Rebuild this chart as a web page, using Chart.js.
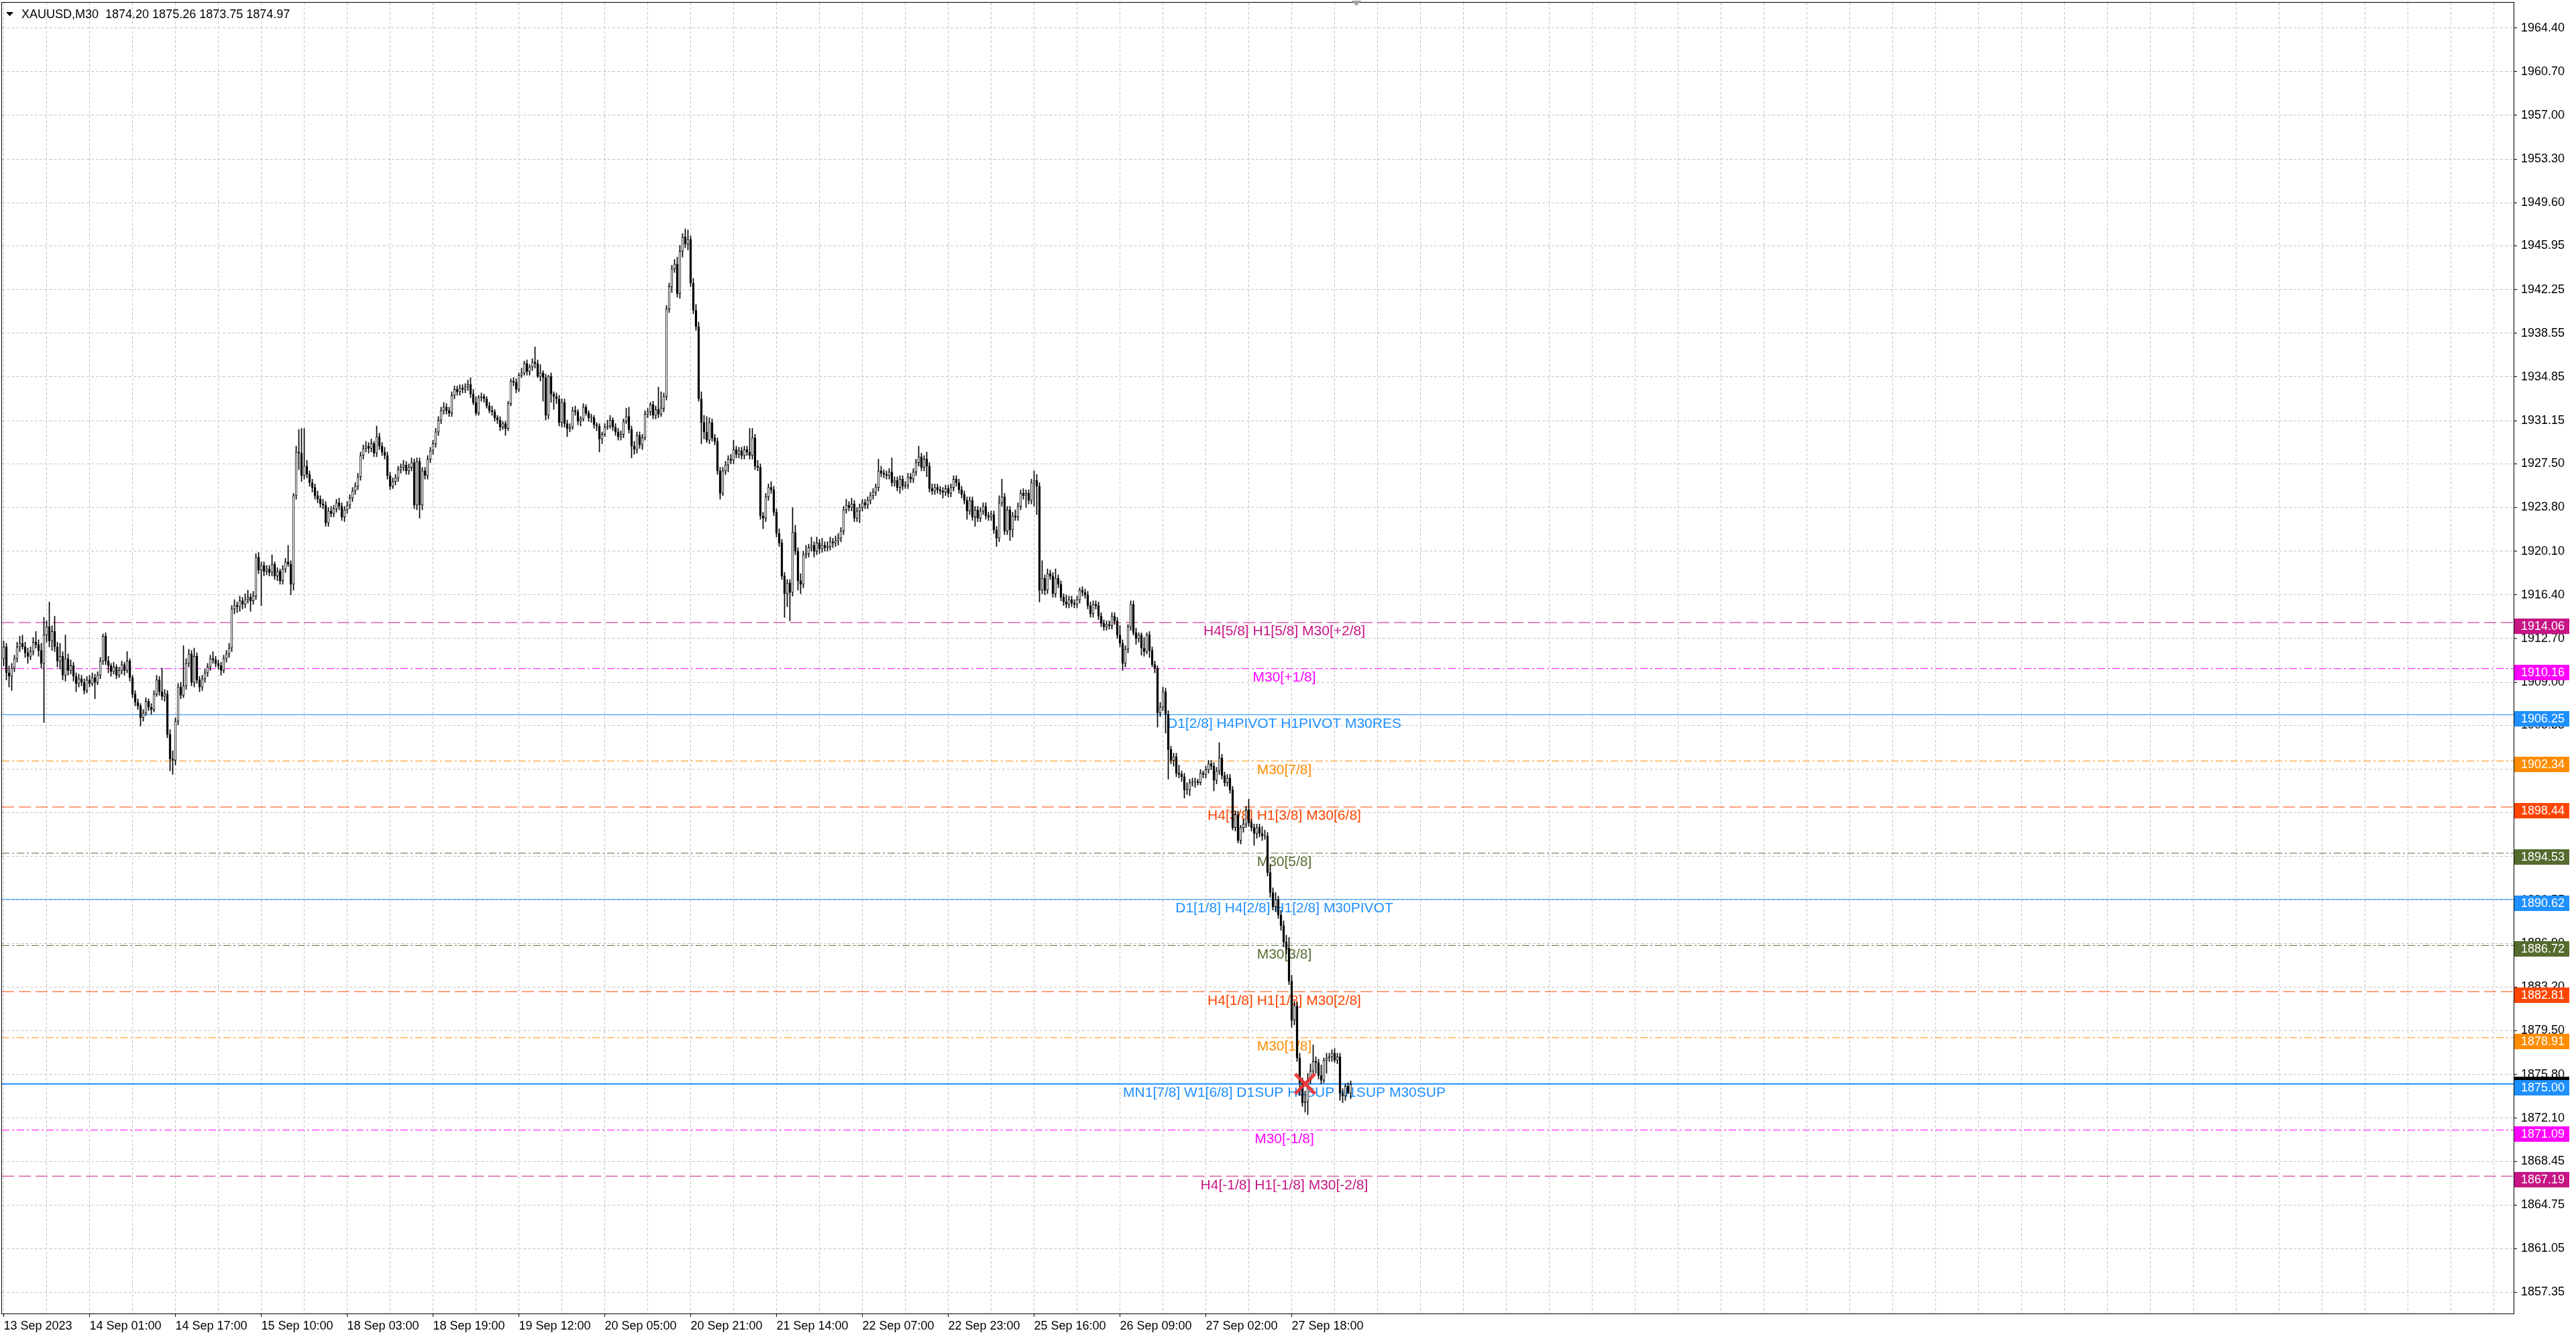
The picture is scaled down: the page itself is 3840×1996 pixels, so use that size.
<!DOCTYPE html>
<html>
<head>
<meta charset="utf-8">
<title>XAUUSD,M30</title>
<script src="https://cdn.jsdelivr.net/npm/chart.js@4.4.1/dist/chart.umd.min.js"></script>
<style>
  html, body { margin: 0; padding: 0; background: #fff; overflow: hidden; }
  canvas { display: block; }
</style>
</head>
<body>
<canvas id="chart" width="3840" height="1996"></canvas>
<script>
// XAUUSD M30 bars, oldest first
const opens = [
  1911.0,1912.0,1909.8,1909.5,1910.2,1911.0,1912.0,1912.3,1912.0,1911.5,
  1911.2,1911.6,1912.4,1912.2,1911.7,1910.6,1913.0,1913.7,1912.5,1913.3,
  1912.0,1910.8,1911.2,1909.6,1911.0,1910.0,1910.4,1909.5,1908.9,1909.3,
  1909.0,1908.3,1909.2,1908.9,1909.4,1909.0,1909.6,1910.8,1912.9,1910.8,
  1910.4,1909.9,1910.3,1909.6,1910.0,1910.5,1910.0,1910.8,1909.4,1908.0,
  1907.3,1907.0,1906.0,1906.4,1907.4,1906.9,1906.7,1908.0,1909.2,1908.2,
  1907.8,1908.0,1904.6,1902.5,1902.4,1905.7,1908.6,1907.9,1908.7,1910.6,
  1911.4,1909.0,1911.2,1909.2,1908.6,1909.3,1909.8,1910.3,1911.0,1910.9,
  1910.6,1910.4,1910.0,1911.0,1911.4,1911.9,1915.2,1915.5,1915.4,1915.9,
  1915.6,1916.0,1916.2,1915.9,1916.3,1919.6,1918.5,1918.9,1918.4,1918.6,
  1918.3,1919.0,1918.0,1918.4,1917.6,1918.6,1919.2,1919.0,1917.3,1924.8,
  1928.5,1928.4,1926.5,1927.3,1926.6,1925.9,1925.5,1924.8,1924.5,1924.1,
  1924.0,1922.5,1923.5,1923.3,1923.7,1924.2,1923.9,1923.0,1923.6,1924.0,
  1924.6,1925.2,1925.6,1926.4,1928.2,1928.8,1929.0,1928.8,1929.2,1928.4,
  1929.8,1929.0,1928.5,1928.2,1926.5,1925.6,1926.0,1926.3,1927.0,1927.2,
  1927.4,1926.9,1927.2,1927.6,1924.0,1927.7,1924.0,1926.9,1926.5,1927.9,
  1928.6,1929.2,1930.2,1931.2,1932.0,1932.3,1932.0,1931.8,1933.3,1933.8,
  1933.6,1933.9,1933.8,1934.0,1934.2,1933.4,1932.7,1931.8,1933.1,1933.2,
  1933.0,1932.4,1932.0,1931.9,1931.4,1931.2,1930.6,1930.9,1930.5,1932.6,
  1934.5,1934.4,1933.8,1935.0,1935.2,1936.0,1935.3,1935.7,1936.1,1936.0,
  1934.9,1935.2,1934.8,1931.6,1934.9,1933.4,1933.2,1933.0,1931.0,1932.7,
  1930.9,1930.5,1930.6,1932.0,1931.9,1931.1,1931.3,1932.3,1931.8,1931.4,
  1931.4,1930.8,1930.7,1929.6,1930.0,1930.6,1930.7,1931.2,1930.6,1930.2,
  1929.8,1930.0,1931.1,1931.5,1930.4,1929.0,1928.7,1929.9,1929.1,1929.7,
  1931.7,1931.9,1932.5,1931.6,1932.1,1931.7,1932.2,1933.2,1940.6,1942.5,
  1944.0,1944.4,1941.9,1945.5,1946.7,1946.1,1946.5,1942.8,1940.5,1939.1,
  1933.0,1931.0,1930.2,1929.5,1931.0,1929.7,1929.4,1926.9,1925.0,1926.9,
  1927.4,1927.9,1927.8,1928.7,1928.3,1928.6,1928.2,1928.7,1928.5,1928.2,
  1929.7,1927.3,1927.2,1923.1,1922.9,1924.7,1925.5,1925.3,1923.4,1921.6,
  1920.8,1918.0,1916.5,1917.4,1916.6,1921.7,1920.1,1917.6,1917.3,1919.8,
  1919.9,1920.4,1920.6,1920.1,1920.8,1920.3,1920.6,1920.4,1920.5,1920.9,
  1920.8,1921.0,1921.2,1921.8,1923.6,1924.0,1923.8,1924.1,1922.9,1923.5,
  1923.8,1924.2,1924.0,1924.4,1924.8,1925.1,1925.5,1926.9,1926.7,1926.6,
  1926.5,1926.8,1925.9,1926.1,1925.5,1926.2,1925.6,1925.7,1926.4,1926.2,
  1926.8,1927.6,1928.1,1927.2,1927.9,1927.3,1925.4,1925.2,1925.5,1925.3,
  1925.2,1925.1,1925.4,1925.0,1925.5,1926.2,1925.9,1925.3,1924.9,1924.4,
  1923.5,1924.4,1923.0,1923.6,1922.9,1923.5,1923.9,1923.1,1923.0,1923.2,
  1921.9,1921.2,1924.2,1924.7,1921.8,1923.6,1921.9,1923.1,1923.0,1923.9,
  1925.0,1924.8,1925.0,1924.4,1925.9,1926.1,1925.6,1916.8,1917.8,1916.8,
  1918.2,1918.0,1916.5,1917.8,1917.3,1916.2,1915.8,1915.6,1916.0,1915.7,
  1915.6,1916.0,1916.8,1916.6,1916.4,1915.5,1914.8,1915.6,1915.5,1914.6,
  1914.0,1913.7,1913.9,1913.8,1914.6,1914.2,1913.0,1912.3,1910.6,1911.8,
  1913.7,1915.6,1913.2,1912.7,1913.0,1911.9,1911.6,1913.0,1911.7,1910.5,
  1910.2,1906.4,1906.9,1908.2,1906.3,1903.3,1902.4,1902.7,1901.3,1901.2,
  1901.0,1899.9,1899.9,1900.5,1900.6,1900.6,1900.5,1901.3,1901.2,1901.6,
  1902.1,1901.9,1900.7,1901.5,1902.6,1901.1,1900.5,1900.9,1899.9,1896.7,
  1897.8,1895.6,1896.7,1897.0,1898.2,1897.1,1896.7,1896.2,1896.7,1896.2,
  1896.0,1896.0,1892.9,1891.2,1890.0,1890.6,1889.3,1888.4,1887.0,1886.5,
  1883.7,1880.4,1881.6,1877.2,1875.1,1873.4,1873.5,1875.3,1876.1,1876.9,
  1876.8,1875.7,1875.3,1877.0,1877.2,1877.3,1877.6,1877.0,1877.3,1874.2,
  1874.0,1874.8,1874.20
];
const highs = [
  1912.5,1912.3,1910.4,1910.6,1911.3,1912.4,1912.9,1913.0,1912.4,1911.9,
  1912.0,1912.8,1913.3,1912.6,1912.3,1914.5,1914.2,1915.8,1913.8,1914.6,
  1912.4,1912.3,1911.6,1913.0,1911.4,1910.9,1910.7,1909.8,1909.7,1909.6,
  1909.3,1909.5,1909.6,1909.8,1909.7,1909.9,1911.1,1913.1,1913.2,1911.2,
  1910.6,1910.7,1910.5,1910.3,1910.8,1910.7,1911.6,1911.0,1909.6,1908.3,
  1907.6,1907.2,1906.7,1907.7,1907.6,1907.2,1908.3,1909.6,1909.5,1910.2,
  1908.4,1908.3,1905.0,1903.2,1906.0,1908.9,1909.0,1912.1,1911.0,1911.8,
  1911.7,1911.9,1911.5,1909.5,1909.6,1910.1,1910.6,1911.3,1911.6,1911.2,
  1910.9,1910.7,1911.3,1911.7,1912.3,1915.5,1916.0,1915.8,1916.3,1916.2,
  1916.5,1916.8,1916.5,1916.7,1919.9,1920.0,1919.2,1919.2,1918.9,1918.9,
  1919.8,1919.2,1918.7,1918.6,1918.9,1919.5,1920.6,1919.3,1925.0,1929.0,
  1930.4,1930.5,1930.5,1927.8,1926.9,1926.2,1925.8,1925.2,1924.8,1924.5,
  1924.3,1923.8,1923.9,1924.0,1924.5,1924.6,1924.2,1923.9,1924.3,1924.9,
  1925.5,1925.9,1926.7,1928.5,1929.1,1929.4,1929.3,1929.6,1929.4,1930.7,
  1930.1,1929.3,1928.9,1928.5,1926.8,1926.3,1926.6,1927.3,1927.5,1927.8,
  1927.7,1927.5,1928.0,1927.9,1928.0,1928.0,1927.2,1927.2,1928.2,1928.9,
  1929.5,1930.5,1931.5,1932.3,1932.7,1932.6,1932.3,1933.6,1934.1,1934.1,
  1934.2,1934.2,1934.3,1934.6,1934.8,1933.8,1933.2,1933.3,1933.5,1933.4,
  1933.2,1932.7,1932.4,1932.1,1931.6,1931.5,1931.1,1931.1,1932.8,1934.7,
  1934.8,1934.7,1935.2,1935.6,1936.2,1936.3,1935.9,1936.4,1937.4,1936.3,
  1935.9,1935.4,1935.1,1935.0,1935.2,1933.6,1933.5,1933.3,1933.0,1933.0,
  1931.2,1930.9,1932.3,1932.4,1932.1,1931.5,1932.6,1932.5,1932.0,1931.7,
  1931.6,1931.0,1930.9,1930.2,1930.9,1931.2,1931.6,1931.4,1930.9,1930.5,
  1930.3,1931.3,1932.2,1932.3,1930.7,1929.4,1930.2,1930.2,1930.0,1932.0,
  1932.2,1932.7,1932.8,1932.4,1934.0,1933.6,1933.5,1940.9,1942.8,1944.3,
  1944.8,1945.0,1946.0,1947.0,1947.4,1947.3,1946.8,1943.2,1941.0,1939.5,
  1933.6,1931.6,1931.5,1931.4,1931.3,1930.0,1929.7,1927.2,1927.2,1927.7,
  1928.2,1928.3,1929.5,1929.0,1928.9,1928.9,1929.0,1929.0,1930.5,1930.5,
  1930.0,1927.8,1927.5,1923.4,1925.0,1925.8,1926.0,1925.6,1923.7,1922.0,
  1921.1,1918.3,1917.7,1917.7,1923.8,1922.3,1920.4,1918.2,1920.1,1920.6,
  1920.7,1921.3,1920.9,1921.3,1921.1,1921.2,1920.9,1920.9,1921.3,1921.2,
  1921.4,1921.6,1922.1,1923.9,1924.5,1924.3,1924.6,1924.4,1923.8,1924.1,
  1924.5,1924.5,1924.7,1925.1,1925.4,1925.8,1927.9,1927.3,1927.0,1926.9,
  1927.1,1928.0,1926.4,1926.4,1926.5,1926.5,1926.0,1926.7,1926.7,1927.1,
  1927.9,1929.0,1928.4,1928.2,1928.5,1927.6,1925.8,1925.8,1925.8,1925.6,
  1925.5,1925.7,1925.7,1925.8,1926.5,1926.5,1926.2,1925.6,1925.2,1924.7,
  1924.7,1924.7,1923.9,1923.9,1923.8,1924.2,1924.2,1923.4,1923.5,1923.5,
  1922.2,1924.8,1926.2,1925.0,1923.9,1923.9,1923.4,1923.6,1924.2,1925.3,
  1925.4,1925.3,1925.3,1926.2,1926.9,1926.6,1925.9,1919.3,1918.1,1918.6,
  1918.5,1918.3,1918.6,1918.1,1917.6,1916.5,1916.4,1916.3,1916.3,1916.0,
  1916.3,1917.0,1917.1,1916.9,1916.7,1915.8,1915.9,1915.9,1915.8,1914.9,
  1914.3,1914.2,1914.2,1914.9,1914.9,1914.5,1913.8,1912.6,1912.1,1913.9,
  1915.9,1915.9,1913.6,1913.2,1913.2,1912.8,1913.2,1913.3,1912.0,1910.8,
  1910.4,1907.3,1908.6,1908.5,1906.6,1903.6,1903.0,1903.0,1902.0,1901.5,
  1901.3,1900.5,1900.8,1900.9,1900.9,1900.8,1901.6,1901.5,1901.9,1902.4,
  1902.4,1902.2,1901.8,1903.9,1902.9,1901.4,1901.2,1901.2,1900.2,1898.1,
  1898.1,1896.9,1897.4,1898.5,1899.1,1897.4,1897.0,1897.0,1897.0,1896.8,
  1896.5,1896.3,1893.5,1891.6,1891.2,1890.9,1889.7,1888.8,1887.6,1887.4,
  1884.2,1882.0,1881.9,1877.6,1875.5,1874.4,1875.9,1876.7,1878.3,1877.3,
  1877.1,1876.6,1877.2,1877.6,1877.6,1877.9,1878.0,1877.6,1877.6,1874.6,
  1875.0,1875.1,1875.26
];
const lows = [
  1910.4,1909.2,1908.6,1908.3,1909.9,1910.7,1911.6,1911.8,1911.1,1910.6,
  1910.9,1911.3,1911.9,1911.2,1910.2,1905.6,1912.4,1912.0,1911.7,1911.6,
  1910.3,1910.1,1909.2,1909.1,1909.6,1909.7,1909.1,1908.2,1908.6,1908.7,
  1908.0,1908.1,1908.6,1908.7,1907.6,1908.8,1909.3,1910.5,1910.5,1909.8,
  1909.5,1909.7,1909.3,1909.4,1909.7,1909.6,1909.8,1909.1,1907.7,1907.0,
  1906.7,1905.3,1905.7,1906.2,1906.6,1906.3,1906.5,1907.8,1907.9,1907.5,
  1907.4,1904.3,1901.5,1901.2,1902.0,1905.4,1907.6,1907.7,1908.4,1910.3,
  1908.7,1908.6,1908.9,1908.2,1908.3,1909.0,1909.5,1910.0,1910.6,1910.3,
  1910.1,1909.6,1909.8,1910.7,1911.1,1911.6,1914.8,1914.9,1915.0,1915.2,
  1915.3,1915.7,1915.0,1915.6,1916.0,1918.2,1915.5,1918.0,1918.1,1918.0,
  1918.0,1917.7,1917.6,1917.3,1917.3,1918.3,1918.8,1916.4,1916.8,1924.5,
  1927.0,1926.0,1926.2,1926.3,1925.6,1925.1,1924.5,1924.2,1923.8,1923.7,
  1922.2,1922.2,1923.0,1923.0,1923.4,1923.6,1922.7,1922.6,1923.3,1923.7,
  1924.3,1924.9,1925.3,1926.1,1927.9,1928.5,1928.4,1928.5,1928.1,1928.1,
  1928.7,1928.2,1927.9,1926.2,1925.3,1925.4,1925.7,1926.0,1926.7,1926.9,
  1926.6,1926.6,1926.9,1923.7,1923.6,1922.9,1923.6,1926.2,1926.2,1927.6,
  1928.3,1928.9,1929.9,1930.9,1931.7,1931.7,1931.5,1931.5,1933.0,1933.3,
  1933.3,1933.5,1933.5,1933.7,1933.1,1932.5,1931.6,1931.6,1932.8,1932.7,
  1932.2,1931.8,1931.6,1931.1,1930.9,1930.3,1930.4,1929.9,1930.3,1932.4,
  1934.1,1933.5,1933.6,1934.8,1935.0,1935.0,1935.0,1935.4,1935.6,1934.8,
  1934.5,1932.8,1931.2,1931.3,1932.7,1932.1,1932.6,1930.7,1930.6,1930.6,
  1929.8,1930.2,1930.4,1931.6,1930.8,1930.7,1931.1,1931.6,1931.1,1931.0,
  1930.5,1930.3,1928.5,1929.2,1929.8,1930.4,1930.5,1930.3,1929.9,1929.5,
  1929.5,1929.7,1930.9,1930.1,1928.0,1928.3,1928.4,1928.8,1928.7,1929.5,
  1931.4,1931.6,1931.3,1931.3,1931.4,1931.5,1931.9,1932.9,1940.3,1942.0,
  1943.7,1941.6,1941.5,1945.0,1945.8,1945.6,1942.5,1940.2,1938.8,1932.8,
  1929.2,1929.6,1929.3,1929.2,1929.4,1929.1,1926.6,1924.5,1924.8,1926.6,
  1926.8,1927.5,1927.5,1928.0,1928.0,1927.9,1927.9,1928.2,1927.9,1927.9,
  1927.0,1926.9,1922.8,1922.0,1922.6,1924.4,1925.0,1923.1,1921.3,1920.5,
  1917.7,1914.5,1915.4,1914.2,1916.3,1919.8,1916.8,1916.5,1917.0,1919.5,
  1919.6,1920.1,1919.6,1919.8,1919.9,1920.0,1920.1,1920.1,1920.2,1920.4,
  1920.5,1920.6,1920.9,1921.5,1923.3,1923.5,1923.5,1922.6,1922.6,1922.5,
  1923.5,1923.7,1923.7,1924.1,1924.5,1924.8,1925.2,1926.4,1926.3,1926.2,
  1926.2,1925.6,1925.6,1925.2,1925.0,1925.3,1925.4,1925.4,1925.9,1925.9,
  1926.5,1927.3,1926.9,1926.9,1926.4,1925.1,1924.9,1924.9,1925.0,1924.9,
  1924.6,1924.8,1924.7,1924.7,1925.2,1925.6,1925.0,1924.6,1924.1,1922.8,
  1923.2,1922.7,1922.2,1922.6,1922.6,1923.2,1922.8,1922.7,1922.7,1921.6,
  1920.5,1920.9,1923.9,1921.5,1921.5,1921.0,1921.3,1922.7,1922.7,1923.6,
  1924.5,1923.8,1924.1,1924.1,1923.9,1923.2,1915.8,1916.5,1916.4,1916.5,
  1917.7,1916.2,1916.2,1917.0,1915.9,1915.5,1915.3,1915.3,1915.4,1915.3,
  1915.3,1915.7,1916.3,1916.1,1915.2,1914.5,1914.5,1915.2,1914.3,1913.7,
  1913.4,1913.4,1913.5,1913.5,1913.9,1912.7,1912.0,1910.0,1910.3,1911.5,
  1913.4,1913.0,1912.2,1912.4,1911.3,1911.2,1911.4,1911.1,1910.3,1909.8,
  1905.2,1906.1,1906.6,1904.7,1900.8,1902.1,1901.9,1901.0,1900.9,1900.6,
  1899.2,1899.5,1899.4,1900.2,1900.1,1900.3,1900.3,1900.9,1900.9,1901.3,
  1901.6,1899.8,1900.4,1901.2,1900.8,1900.2,1900.2,1899.6,1896.5,1896.4,
  1895.4,1895.3,1896.3,1896.7,1896.8,1896.4,1895.2,1895.8,1895.9,1895.6,
  1895.7,1892.6,1890.8,1889.7,1889.6,1889.0,1888.0,1886.6,1886.0,1883.4,
  1879.8,1880.0,1876.9,1874.0,1873.1,1872.6,1872.4,1875.0,1875.8,1875.9,
  1875.4,1875.0,1875.1,1875.9,1876.9,1876.9,1876.8,1876.7,1873.6,1873.4,
  1873.6,1874.2,1873.75
];
const closes = [
  1912.0,1909.8,1909.5,1910.2,1911.0,1912.0,1912.3,1912.0,1911.5,1911.2,
  1911.6,1912.4,1912.2,1911.7,1910.6,1913.0,1913.7,1912.5,1913.3,1912.0,
  1910.8,1911.2,1909.6,1911.0,1910.0,1910.4,1909.5,1908.9,1909.3,1909.0,
  1908.3,1909.2,1908.9,1909.4,1909.0,1909.6,1910.8,1912.9,1910.8,1910.4,
  1909.9,1910.3,1909.6,1910.0,1910.5,1910.0,1910.8,1909.4,1908.0,1907.3,
  1907.0,1906.0,1906.4,1907.4,1906.9,1906.7,1908.0,1909.2,1908.2,1907.8,
  1908.0,1904.6,1902.5,1902.4,1905.7,1908.6,1907.9,1908.7,1910.6,1911.4,
  1909.0,1911.2,1909.2,1908.6,1909.3,1909.8,1910.3,1911.0,1910.9,1910.6,
  1910.4,1910.0,1911.0,1911.4,1911.9,1915.2,1915.5,1915.4,1915.9,1915.6,
  1916.0,1916.2,1915.9,1916.3,1919.6,1918.5,1918.9,1918.4,1918.6,1918.3,
  1919.0,1918.0,1918.4,1917.6,1918.6,1919.2,1919.0,1917.3,1924.8,1928.5,
  1928.4,1926.5,1927.3,1926.6,1925.9,1925.5,1924.8,1924.5,1924.1,1924.0,
  1922.5,1923.5,1923.3,1923.7,1924.2,1923.9,1923.0,1923.6,1924.0,1924.6,
  1925.2,1925.6,1926.4,1928.2,1928.8,1929.0,1928.8,1929.2,1928.4,1929.8,
  1929.0,1928.5,1928.2,1926.5,1925.6,1926.0,1926.3,1927.0,1927.2,1927.4,
  1926.9,1927.2,1927.6,1924.0,1927.7,1924.0,1926.9,1926.5,1927.9,1928.6,
  1929.2,1930.2,1931.2,1932.0,1932.3,1932.0,1931.8,1933.3,1933.8,1933.6,
  1933.9,1933.8,1934.0,1934.2,1933.4,1932.7,1931.8,1933.1,1933.2,1933.0,
  1932.4,1932.0,1931.9,1931.4,1931.2,1930.6,1930.9,1930.5,1932.6,1934.5,
  1934.4,1933.8,1935.0,1935.2,1936.0,1935.3,1935.7,1936.1,1936.0,1934.9,
  1935.2,1934.8,1931.6,1934.9,1933.4,1933.2,1933.0,1931.0,1932.7,1930.9,
  1930.5,1930.6,1932.0,1931.9,1931.1,1931.3,1932.3,1931.8,1931.4,1931.4,
  1930.8,1930.7,1929.6,1930.0,1930.6,1930.7,1931.2,1930.6,1930.2,1929.8,
  1930.0,1931.1,1931.5,1930.4,1929.0,1928.7,1929.9,1929.1,1929.7,1931.7,
  1931.9,1932.5,1931.6,1932.1,1931.7,1932.2,1933.2,1940.6,1942.5,1944.0,
  1944.4,1941.9,1945.5,1946.7,1946.1,1946.5,1942.8,1940.5,1939.1,1933.0,
  1931.0,1930.2,1929.5,1931.0,1929.7,1929.4,1926.9,1925.0,1926.9,1927.4,
  1927.9,1927.8,1928.7,1928.3,1928.6,1928.2,1928.7,1928.5,1928.2,1929.7,
  1927.3,1927.2,1923.1,1922.9,1924.7,1925.5,1925.3,1923.4,1921.6,1920.8,
  1918.0,1916.5,1917.4,1916.6,1921.7,1920.1,1917.6,1917.3,1919.8,1919.9,
  1920.4,1920.6,1920.1,1920.8,1920.3,1920.6,1920.4,1920.5,1920.9,1920.8,
  1921.0,1921.2,1921.8,1923.6,1924.0,1923.8,1924.1,1922.9,1923.5,1923.8,
  1924.2,1924.0,1924.4,1924.8,1925.1,1925.5,1926.9,1926.7,1926.6,1926.5,
  1926.8,1925.9,1926.1,1925.5,1926.2,1925.6,1925.7,1926.4,1926.2,1926.8,
  1927.6,1928.1,1927.2,1927.9,1927.3,1925.4,1925.2,1925.5,1925.3,1925.2,
  1925.1,1925.4,1925.0,1925.5,1926.2,1925.9,1925.3,1924.9,1924.4,1923.5,
  1924.4,1923.0,1923.6,1922.9,1923.5,1923.9,1923.1,1923.0,1923.2,1921.9,
  1921.2,1924.2,1924.7,1921.8,1923.6,1921.9,1923.1,1923.0,1923.9,1925.0,
  1924.8,1925.0,1924.4,1925.9,1926.1,1925.6,1916.8,1917.8,1916.8,1918.2,
  1918.0,1916.5,1917.8,1917.3,1916.2,1915.8,1915.6,1916.0,1915.7,1915.6,
  1916.0,1916.8,1916.6,1916.4,1915.5,1914.8,1915.6,1915.5,1914.6,1914.0,
  1913.7,1913.9,1913.8,1914.6,1914.2,1913.0,1912.3,1910.6,1911.8,1913.7,
  1915.6,1913.2,1912.7,1913.0,1911.9,1911.6,1913.0,1911.7,1910.5,1910.2,
  1906.4,1906.9,1908.2,1906.3,1903.3,1902.4,1902.7,1901.3,1901.2,1901.0,
  1899.9,1899.9,1900.5,1900.6,1900.6,1900.5,1901.3,1901.2,1901.6,1902.1,
  1901.9,1900.7,1901.5,1902.6,1901.1,1900.5,1900.9,1899.9,1896.7,1897.8,
  1895.6,1896.7,1897.0,1898.2,1897.1,1896.7,1896.2,1896.7,1896.2,1896.0,
  1896.0,1892.9,1891.2,1890.0,1890.6,1889.3,1888.4,1887.0,1886.5,1883.7,
  1880.4,1881.6,1877.2,1875.1,1873.4,1873.5,1875.3,1876.1,1876.9,1876.8,
  1875.7,1875.3,1877.0,1877.2,1877.3,1877.6,1877.0,1877.3,1874.2,1874.0,
  1874.8,1874.2,1874.97
];

const symbol = 'XAUUSD,M30';
// one time label every 32 bars, starting at the first bar
const timeLabels = [
  '13 Sep 2023', '14 Sep 01:00', '14 Sep 17:00', '15 Sep 10:00', '18 Sep 03:00',
  '18 Sep 19:00', '19 Sep 12:00', '20 Sep 05:00', '20 Sep 21:00', '21 Sep 14:00',
  '22 Sep 07:00', '22 Sep 23:00', '25 Sep 16:00', '26 Sep 09:00', '27 Sep 02:00',
  '27 Sep 18:00'
];
const priceTicks = [
  1964.40, 1960.70, 1957.00, 1953.30, 1949.60, 1945.95, 1942.25, 1938.55, 1934.85, 1931.15,
  1927.50, 1923.80, 1920.10, 1916.40, 1912.70, 1909.00, 1905.35, 1901.65, 1897.95, 1894.25,
  1890.55, 1886.90, 1883.20, 1879.50, 1875.80, 1872.10, 1868.45, 1864.75, 1861.05, 1857.35
];

// Murrey math / pivot levels
const levelPrices = [1914.06, 1910.16, 1906.25, 1902.34, 1898.44, 1894.53, 1890.62,
                     1886.72, 1882.81, 1878.91, 1875.00, 1871.09, 1867.19];
const levelNames = [
  'H4[5/8] H1[5/8] M30[+2/8]',
  'M30[+1/8]',
  'D1[2/8] H4PIVOT H1PIVOT M30RES',
  'M30[7/8]',
  'H4[3/8] H1[3/8] M30[6/8]',
  'M30[5/8]',
  'D1[1/8] H4[2/8] H1[2/8] M30PIVOT',
  'M30[3/8]',
  'H4[1/8] H1[1/8] M30[2/8]',
  'M30[1/8]',
  'MN1[7/8] W1[6/8] D1SUP H4SUP H1SUP M30SUP',
  'M30[-1/8]',
  'H4[-1/8] H1[-1/8] M30[-2/8]'
];
const levelColors = ['#C71585', '#FF00FF', '#1E90FF', '#FF8C00', '#FF4500', '#556B2F', '#1E90FF',
                     '#556B2F', '#FF4500', '#FF8C00', '#1E90FF', '#FF00FF', '#C71585'];
const levelStyles = ['dash', 'dashdot', 'solid', 'dashdot', 'dash', 'dashdot', 'solid',
                     'dashdot', 'dash', 'dashdot', 'solid', 'dashdot', 'dash'];
const levelWidths = [1, 1, 1, 1, 1, 1, 1, 1, 1, 1, 2, 1, 1];

const markBar = 485;       // red cross marker
const markPrice = 1875.00;
const labelBar = 477.25;   // level captions are centred on this bar

// ---- layout ----
const FONT = '"Liberation Sans", Arial, sans-serif';
const barsPerLabel = 32;
const barsPerGrid = 16;
const slots = 936;                 // bar slots across the window (4px each)
const xMin = -0.625;
const xMax = slots - 0.625;
const yMin = 1855.56;
const yMax = 1966.54;
const dashes = { solid: [], dash: [18, 7], dashdot: [11, 4, 3, 4] };

const gridBars = [];
for (let v = 0; v <= xMax; v += barsPerGrid) gridBars.push(v);

Chart.defaults.font.family = FONT;
Chart.defaults.font.size = 18;
Chart.defaults.color = '#000';

const levelSets = levelPrices.map((p, k) => ({
  type: 'line',
  data: [{ x: xMin, y: p }, { x: xMax, y: p }],
  borderColor: levelColors[k],
  borderWidth: levelWidths[k],
  borderDash: dashes[levelStyles[k]],
  pointRadius: 0,
  order: 3
}));

const wickSet = {
  type: 'bar',
  data: closes.map((c, i) => ({ x: i, y: [lows[i], highs[i]] })),
  backgroundColor: '#000',
  borderWidth: 0,
  barThickness: 1,
  grouped: false,
  order: 2
};

const bodySet = {
  type: 'bar',
  data: closes.map((c, i) => ({ x: i, y: [opens[i], c] })),
  backgroundColor: ctx => (closes[ctx.dataIndex] >= opens[ctx.dataIndex] ? '#fff' : '#000'),
  borderColor: '#000',
  borderWidth: 1,
  borderSkipped: false,
  barThickness: 3,
  minBarLength: 1,
  grouped: false,
  order: 1
};

const markSet = {
  type: 'scatter',
  data: [{ x: markBar, y: markPrice }],
  pointStyle: 'crossRot',
  pointRadius: 21,
  pointBorderWidth: 5,
  pointBorderColor: 'rgba(236,48,48,0.9)',
  pointBackgroundColor: 'rgba(0,0,0,0)',
  order: 0
};

const mt4Plugin = {
  id: 'mt4',
  beforeDatasetDraw(chart, args) {
    // captions sit above the level lines but under the candles
    if (args.index !== levelPrices.length) return;
    const { ctx, scales: { x, y } } = chart;
    ctx.save();
    ctx.font = '21px ' + FONT;
    ctx.textAlign = 'center';
    ctx.textBaseline = 'top';
    levelPrices.forEach((p, k) => {
      ctx.fillStyle = levelColors[k];
      ctx.fillText(levelNames[k], x.getPixelForValue(labelBar), y.getPixelForValue(p) + 3);
    });
    ctx.restore();
  },
  afterDraw(chart) {
    const { ctx, chartArea: a, scales: { x, y } } = chart;
    const last = closes.length - 1;
    ctx.save();

    // frame
    ctx.strokeStyle = '#000';
    ctx.lineWidth = 1;
    ctx.strokeRect(a.left - 0.5, a.top - 0.5, a.right - a.left + 1, a.bottom - a.top + 1);

    // chart shift marker
    const sx = Math.round(x.getPixelForValue(last + 2));
    ctx.fillStyle = '#a0a0a0';
    ctx.beginPath();
    ctx.moveTo(sx - 7, 1);
    ctx.lineTo(sx + 7, 1);
    ctx.lineTo(sx, 9);
    ctx.closePath();
    ctx.fill();

    // header
    ctx.fillStyle = '#000';
    ctx.beginPath();
    ctx.moveTo(9, 18);
    ctx.lineTo(20, 18);
    ctx.lineTo(14.5, 24);
    ctx.closePath();
    ctx.fill();
    ctx.font = '18px ' + FONT;
    ctx.textAlign = 'left';
    ctx.textBaseline = 'middle';
    const header = symbol + '  ' + [opens[last], highs[last], lows[last], closes[last]]
      .map(v => v.toFixed(2)).join(' ');
    ctx.fillText(header, 32, 22);

    // price boxes on the axis
    const bx = a.right + 1;
    const bw = 82;
    const bh = 23;
    const bidY = Math.round(y.getPixelForValue(closes[last]));
    ctx.fillStyle = '#000';
    ctx.fillRect(bx, bidY - 11, bw, bh);
    levelPrices.forEach((p, k) => {
      const cy = Math.round(y.getPixelForValue(p));
      ctx.fillStyle = levelColors[k];
      ctx.fillRect(bx, cy - 6, bw, bh);
      ctx.fillStyle = '#fff';
      ctx.fillText(p.toFixed(2), bx + 10, cy + 6);
    });
    ctx.restore();
  }
};

new Chart(document.getElementById('chart'), {
  type: 'bar',
  data: { datasets: [...levelSets, wickSet, bodySet, markSet] },
  options: {
    responsive: false,
    animation: false,
    devicePixelRatio: 1,
    events: [],
    layout: { autoPadding: false, padding: { left: 3, top: 4, right: 0, bottom: 0 } },
    plugins: { legend: { display: false }, tooltip: { enabled: false } },
    scales: {
      x: {
        type: 'linear',
        min: xMin,
        max: xMax,
        bounds: 'data',
        offset: false,
        afterBuildTicks: s => { s.ticks = gridBars.map(v => ({ value: v })); },
        afterFit: s => { s.height = 38; s.paddingLeft = 0; s.paddingRight = 0; },
        ticks: {
          autoSkip: false,
          maxRotation: 0,
          minRotation: 0,
          align: 'start',
          padding: 3,
          color: '#000',
          font: { size: 18 },
          callback: v => (v % barsPerLabel === 0 ? (timeLabels[v / barsPerLabel] || '') : '')
        },
        grid: {
          offset: false,
          color: '#c6c6c6',
          lineWidth: 1,
          tickLength: 5,
          tickColor: c => (c.tick && c.tick.value % barsPerLabel === 0 && timeLabels[c.tick.value / barsPerLabel]
            ? '#000' : 'rgba(0,0,0,0)')
        },
        border: { display: false, dash: [4, 3] }
      },
      y: {
        type: 'linear',
        position: 'right',
        min: yMin,
        max: yMax,
        bounds: 'data',
        beginAtZero: false,
        afterBuildTicks: s => { s.ticks = priceTicks.map(v => ({ value: v })); },
        afterFit: s => { s.width = 93; s.paddingTop = 0; s.paddingBottom = 0; },
        ticks: {
          padding: 6,
          color: '#000',
          font: { size: 18 },
          callback: v => Number(v).toFixed(2)
        },
        grid: { color: '#c6c6c6', lineWidth: 1, tickColor: '#000', tickLength: 5 },
        border: { display: false, dash: [4, 3] }
      }
    }
  },
  plugins: [mt4Plugin]
});
</script>
</body>
</html>
